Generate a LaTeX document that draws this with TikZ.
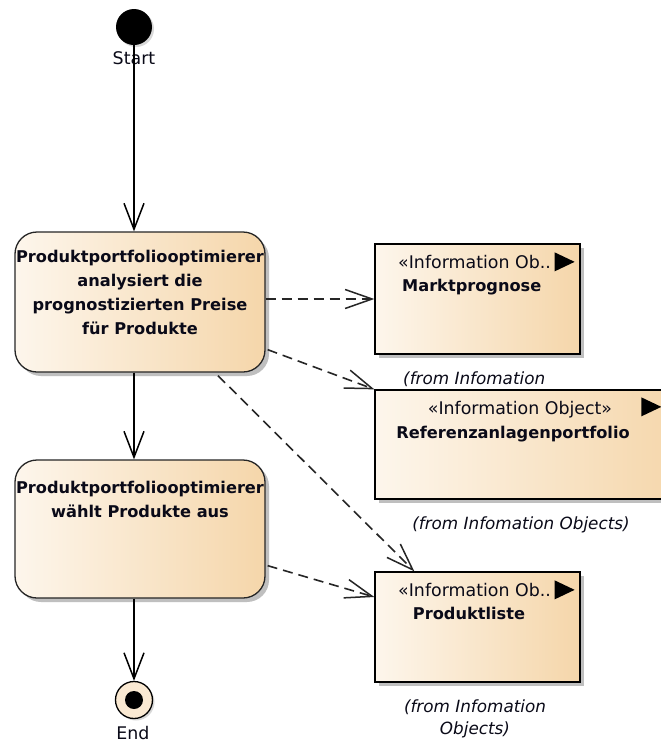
\documentclass[tikz,border=0pt]{standalone}
\usepackage{fontspec}
\setmainfont{DejaVu Sans}
\usetikzlibrary{arrows.meta,shadows,calc}
\definecolor{peachL}{HTML}{FDF6EC}
\definecolor{peachR}{HTML}{F5D6AA}
\definecolor{inktext}{HTML}{0A0A18}

\tikzset{
  x=1pt, y=1pt,
  boxshadow/.style={drop shadow={shadow xshift=4pt, shadow yshift=-4pt, fill=black!45, opacity=.55}},
  action/.style={draw=black!85, line width=1.3pt, rounded corners=22pt,
    left color=peachL, right color=peachR, minimum width=250pt,
    minimum height=140pt, inner sep=0pt, boxshadow},
  infobox/.style={draw=black, line width=1.3pt, left color=peachL, right color=peachR,
    inner sep=0pt, minimum width=205pt, minimum height=110pt, boxshadow},
  boldtxt/.style={font=\fontsize{16.2pt}{24pt}\selectfont\bfseries, text=inktext,
    align=center, inner sep=0pt},
  regtxt/.style={font=\fontsize{17.4pt}{22pt}\selectfont, text=inktext, inner sep=0pt},
  fromtxt/.style={font=\fontsize{16.8pt}{22pt}\selectfont\itshape, text=inktext,
    inner sep=0pt, align=center},
  flow/.style={draw=black, line width=1.4pt, -{Straight Barb[length=26pt,width=20pt,line width=1.5pt]}},
  dep/.style={draw=black!85, line width=1.6pt, dash pattern=on 10pt off 6pt,
    -{Straight Barb[length=27pt,width=19pt,line width=1.5pt]}},
}

\begin{document}
\begin{tikzpicture}
\useasboundingbox (0,0) rectangle (661,-745);
\fill[white] (0,0) rectangle (661,-745);
\clip (0,0) rectangle (661,-745);

% initial and final nodes
\node[circle, fill=black, minimum size=36pt, inner sep=0pt,
      drop shadow={shadow xshift=2pt, shadow yshift=-2pt, fill=black!30, opacity=.5}]
      (start) at (134,-27) {};
\node[regtxt, anchor=base] (startlbl) at (134,-64) {Start};

\node[circle, draw=black, line width=1.3pt, fill=peachL!60!peachR, minimum size=37pt,
      inner sep=0pt, drop shadow={shadow xshift=2pt, shadow yshift=-2pt, fill=black!30, opacity=.5}]
      (end) at (134,-700) {};
\node[circle, fill=black, minimum size=18pt, inner sep=0pt] (endcore) at (end) {};
\node[regtxt, anchor=base] (endlbl) at (133,-739) {End};

% actions
\node[action] (a1) at (140,-302) {};
\node[boldtxt, anchor=north] (a1txt) at (140,-250)
  {Produktportfoliooptimierer\\analysiert die\\prognostizierten Preise\\für Produkte};

\node[action, minimum height=138pt] (a2) at (140,-529) {};
\node[boldtxt, anchor=north] (a2txt) at (140,-481)
  {Produktportfoliooptimierer\\wählt Produkte aus};

% information objects
\node[infobox] (m) at (477.5,-299) {};
\node[regtxt, anchor=base west] (mst) at (398,-268) {«Information Ob..};
\node[boldtxt, anchor=base west] (mname) at (402,-291) {Marktprognose};
\fill ($(m.north east)+(-26,-9)$) -- ++(0,-19) -- ++(20,9.5) -- cycle;
\node[fromtxt, anchor=base west] (mfrom) at (403,-384) {(from Infomation};

\node[infobox, minimum width=310pt, minimum height=109pt] (r) at (530,-444.5) {};
\node[regtxt, anchor=base] (rst) at (520,-414) {«Information Object»};
\node[boldtxt, anchor=base] (rname) at (513,-438) {Referenzanlagenportfolio};
\fill ($(r.north west)+(267,-8)$) -- ++(0,-19) -- ++(20,9.5) -- cycle;
\node[fromtxt, anchor=base] (rfrom) at (521,-529) {(from Infomation Objects)};

\node[infobox] (p) at (477.5,-627) {};
\node[regtxt, anchor=base west] (pst) at (398,-596) {«Information Ob..};
\node[boldtxt, anchor=base] (pname) at (469,-619) {Produktliste};
\fill ($(p.north east)+(-26,-9)$) -- ++(0,-19) -- ++(20,9.5) -- cycle;
\node[fromtxt, anchor=north] (pfrom) at (475,-700) {(from Infomation\\Objects)};

% control flow
\draw[flow] (start) -- (start |- a1.north);
\draw[flow] (start |- a1.south) -- (start |- a2.north);
\draw[flow] (start |- a2.south) -- (end.north);

% information flows
\draw[dep] (m.west -| a1.east) -- (m.west);
\draw[dep] ($(a1.south east)+(2,23)$) -- (r.north west);
\draw[dep] ($(a1.south)+(78,-3)$) -- ($(p.north west)+(40,0)$);
\draw[dep] ($(a2.south east)+(2,33)$) -- ($(p.west)+(0,30)$);
\end{tikzpicture}
\end{document}
